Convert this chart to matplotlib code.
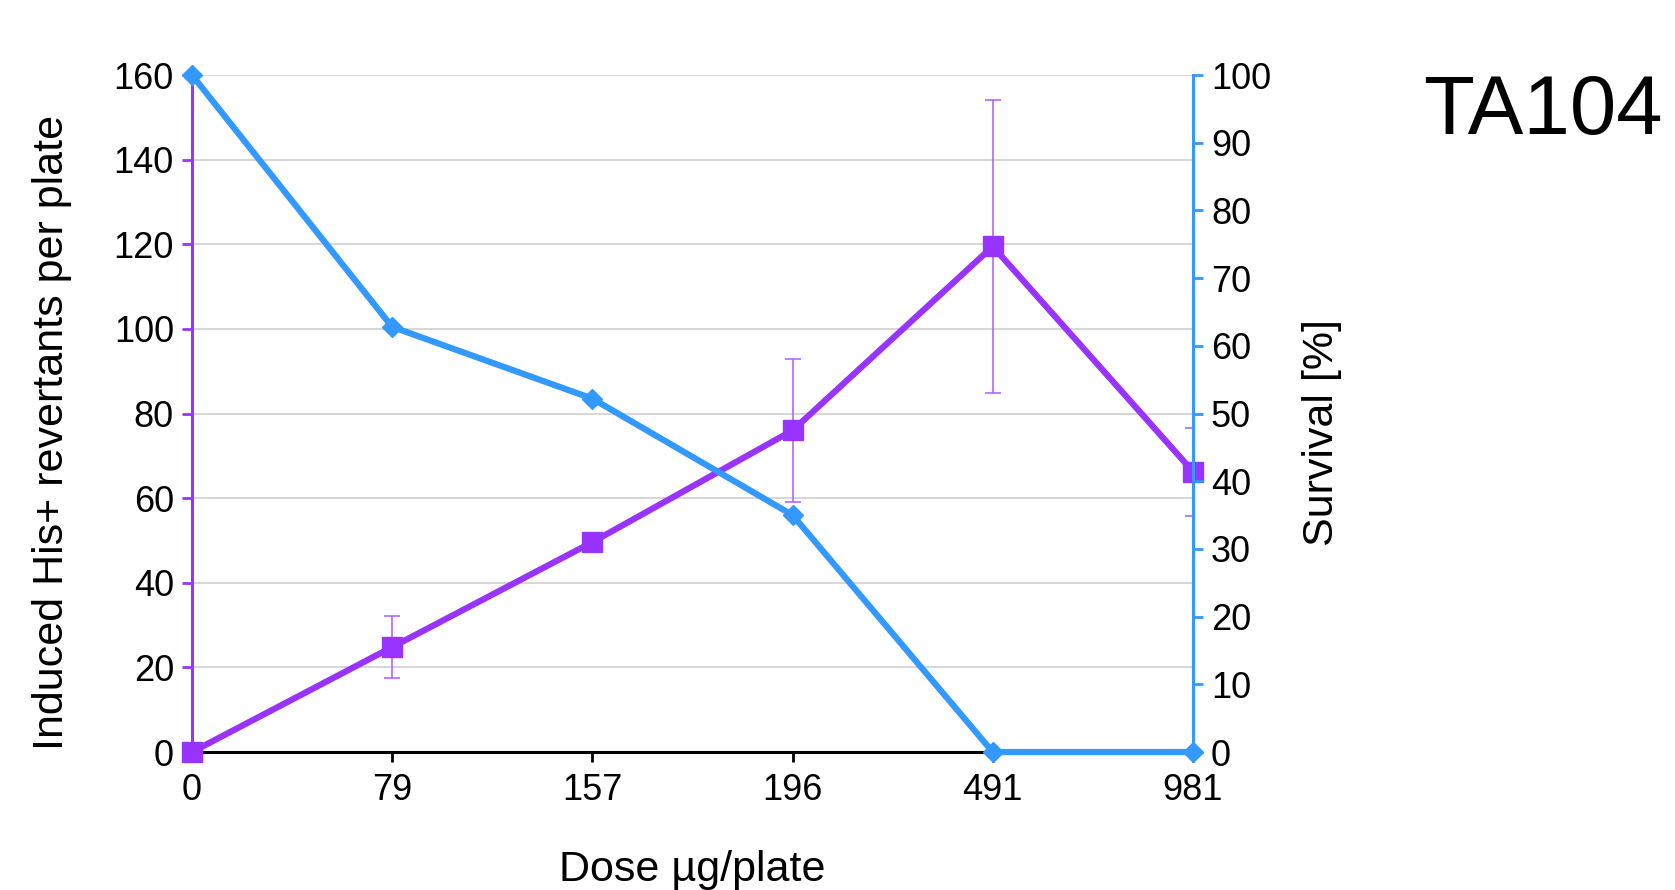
import matplotlib
matplotlib.use("Agg")
import matplotlib.pyplot as plt
import numpy as np

plt.rcParams['font.family'] = ['Liberation Sans', 'DejaVu Sans']

doses = ["0", "79", "157", "196", "491", "981"]
revertants = [0, 24.8, 49.6, 76, 119.5, 66.3]
rev_err = [0, 7.3, 1.5, 17, 34.7, 10.4]
survival = [100, 62.8, 52.2, 35.0, 0, 0]

purple = "#9933ff"
purple_light = "#b366ff"
blue = "#3399ff"

fig = plt.figure(figsize=(16.75, 8.9), dpi=100)
ax = fig.add_axes([0.1146, 0.155, 0.5976, 0.7607])
x = np.arange(len(doses))

ax.set_xlim(0, len(doses) - 1)
ax.set_ylim(0, 160)
ax.set_yticks(np.arange(0, 161, 20))
ax.grid(axis='y', color='#d0d0d0', linewidth=1.2)
ax.set_axisbelow(True)

ax.errorbar(x, revertants, yerr=rev_err, fmt='none', ecolor=purple_light,
            elinewidth=1.2, capsize=6, capthick=1.2, zorder=3)
ax.plot(x, revertants, color=purple, linewidth=4.5, marker='s', markersize=15,
        zorder=4, clip_on=False)

ax.set_xticks(x)
ax.set_xticklabels(doses)
for s in ['top', 'right']:
    ax.spines[s].set_visible(False)
ax.spines['left'].set_color(purple)
ax.spines['left'].set_linewidth(2.2)
ax.spines['bottom'].set_color('black')
ax.spines['bottom'].set_linewidth(2.2)
ax.tick_params(axis='y', colors=purple, labelcolor='black', length=7, width=2,
               labelsize=26, direction='out', pad=6)
ax.tick_params(axis='x', colors='black', length=7, width=2, labelsize=26,
               direction='out', pad=8)
ax.set_xlabel("Dose µg/plate", fontsize=31, labelpad=30)
ax.set_ylabel("Induced His+ revertants per plate", fontsize=31, labelpad=30)
ax.yaxis.label.set_y(0.472)

ax2 = ax.twinx()
ax2.set_ylim(0, 100)
ax2.set_yticks(np.arange(0, 101, 10))
ax2.plot(x, survival, color=blue, linewidth=4.5, marker='D', markersize=10,
         zorder=5, clip_on=False)
for s in ['top', 'left', 'bottom']:
    ax2.spines[s].set_visible(False)
ax2.spines['right'].set_color(blue)
ax2.spines['right'].set_linewidth(2.2)
ax2.tick_params(axis='y', colors=blue, labelcolor='black', length=7, width=2,
                labelsize=26, direction='out', pad=6)
ax2.set_ylabel("Survival [%]", fontsize=31, labelpad=22)
ax2.yaxis.label.set_y(0.472)

fig.text(0.921, 0.874, "TA104", fontsize=60, ha='center', va='center')

fig.savefig("out.png", dpi=100, facecolor='white')
